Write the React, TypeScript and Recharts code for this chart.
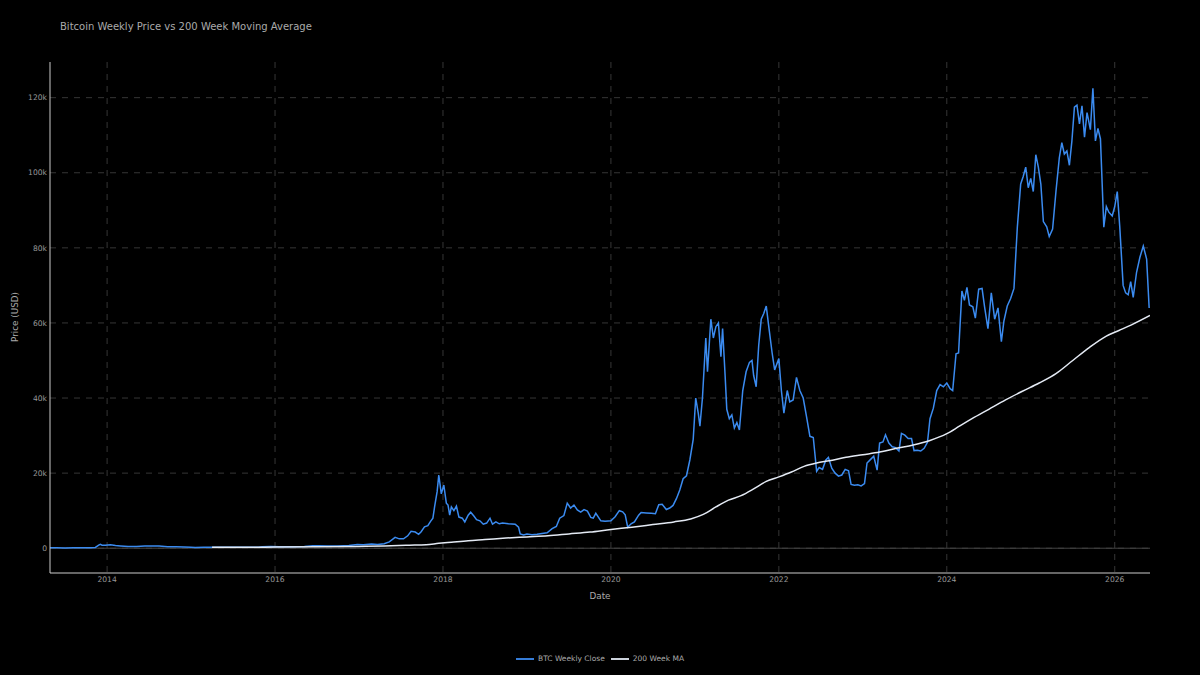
import React from "react";
import {
  CartesianGrid,
  Legend,
  Line,
  LineChart,
  ReferenceLine,
  XAxis,
  YAxis,
} from "recharts";

// weekly close (x = fractional year)
const priceYears = [
  2013.32, 2013.4, 2013.5, 2013.6, 2013.7, 2013.8, 2013.86, 2013.9, 2013.92, 2013.94, 2013.98,
  2014.04, 2014.1, 2014.16, 2014.25, 2014.35, 2014.45, 2014.52, 2014.62, 2014.72, 2014.82, 2014.92,
  2015.0, 2015.05, 2015.15, 2015.3, 2015.42, 2015.52, 2015.62, 2015.72, 2015.8, 2015.85, 2015.95,
  2016.05, 2016.2, 2016.35, 2016.45, 2016.52, 2016.62, 2016.75, 2016.88, 2016.98,
  2017.05, 2017.15, 2017.22, 2017.3, 2017.36, 2017.43, 2017.48, 2017.53, 2017.58, 2017.62, 2017.67,
  2017.71, 2017.74, 2017.78, 2017.82, 2017.85, 2017.88, 2017.9, 2017.93, 2017.95, 2017.98,
  2018.01, 2018.04, 2018.06, 2018.08, 2018.1, 2018.13, 2018.16, 2018.19, 2018.23, 2018.26, 2018.3,
  2018.33, 2018.37, 2018.4, 2018.44, 2018.48, 2018.52, 2018.56, 2018.59, 2018.63, 2018.67, 2018.71,
  2018.78, 2018.86, 2018.9, 2018.92, 2018.96,
  2019.0, 2019.06, 2019.12, 2019.18, 2019.24, 2019.3, 2019.35, 2019.39, 2019.44, 2019.48, 2019.52,
  2019.56, 2019.6, 2019.64, 2019.68, 2019.72, 2019.76, 2019.79, 2019.82, 2019.88, 2019.93,
  2020.0, 2020.05, 2020.1, 2020.14, 2020.17, 2020.2, 2020.24, 2020.28, 2020.33, 2020.36, 2020.42,
  2020.48, 2020.53, 2020.57, 2020.61, 2020.66, 2020.7, 2020.74, 2020.78, 2020.82, 2020.86, 2020.9,
  2020.94, 2020.98,
  2021.01, 2021.04, 2021.06, 2021.09, 2021.13, 2021.15, 2021.19, 2021.22, 2021.25, 2021.28, 2021.31,
  2021.33, 2021.36, 2021.38, 2021.41, 2021.44, 2021.47, 2021.5, 2021.53, 2021.57, 2021.61, 2021.65,
  2021.68, 2021.7, 2021.73, 2021.76, 2021.79, 2021.82, 2021.85, 2021.88, 2021.92, 2021.95,
  2022.0, 2022.03, 2022.06, 2022.1, 2022.13, 2022.17, 2022.21, 2022.25, 2022.29, 2022.33, 2022.37,
  2022.41, 2022.45, 2022.48, 2022.52, 2022.56, 2022.59, 2022.63, 2022.67, 2022.71, 2022.75, 2022.79,
  2022.83, 2022.86, 2022.9, 2022.94, 2022.98,
  2023.02, 2023.05, 2023.09, 2023.13, 2023.17, 2023.2, 2023.24, 2023.27, 2023.31, 2023.35, 2023.39,
  2023.43, 2023.46, 2023.5, 2023.54, 2023.58, 2023.61, 2023.65, 2023.69, 2023.73, 2023.77, 2023.8,
  2023.84, 2023.88, 2023.92, 2023.96,
  2024.0, 2024.04, 2024.07, 2024.11, 2024.14, 2024.18, 2024.21, 2024.24, 2024.27, 2024.31, 2024.34,
  2024.38, 2024.42, 2024.45, 2024.49, 2024.53, 2024.57, 2024.61, 2024.65, 2024.68, 2024.72, 2024.76,
  2024.8, 2024.84, 2024.88, 2024.91, 2024.94, 2024.97,
  2025.0, 2025.03, 2025.06, 2025.09, 2025.12, 2025.15, 2025.19, 2025.22, 2025.26, 2025.3, 2025.34,
  2025.37, 2025.4, 2025.43, 2025.46, 2025.49, 2025.52, 2025.55, 2025.58, 2025.61, 2025.64, 2025.67,
  2025.71, 2025.74, 2025.77, 2025.8, 2025.83, 2025.87, 2025.9, 2025.93, 2025.97,
  2026.0, 2026.03, 2026.06, 2026.1, 2026.13, 2026.16, 2026.19, 2026.22, 2026.26, 2026.3, 2026.34,
  2026.38, 2026.41,
];

const priceValues = [
  120, 115, 90, 105, 125, 140, 210, 800, 1050, 820, 760,
  900, 700, 600, 480, 440, 620, 600, 580, 400, 360, 340,
  290, 220, 250, 230, 240, 290, 260, 240, 280, 380, 430,
  420, 420, 450, 680, 640, 580, 620, 740, 960,
  900, 1100, 1000, 1200, 1700, 2900, 2500, 2500, 3300, 4500, 4300,
  3700, 4400, 5700, 6000, 7100, 8000, 11000, 15000, 19500, 14500,
  16800, 12000, 11500, 8800, 11000, 10000, 11200, 8300, 8000, 7000, 8800,
  9600, 8500, 7600, 7300, 6400, 6700, 8000, 6400, 7000, 6500, 6700,
  6500, 6400, 5600, 3800, 3500,
  3800, 3600, 3700, 3900, 4100, 5200, 5800, 8000, 8700, 12000, 10700,
  11500, 10200, 9600, 10300, 9900, 8200, 8000, 9300, 7300, 7200,
  7300, 8400, 10000, 9700, 8900, 5600, 6500, 7000, 8800, 9500, 9400,
  9300, 9200, 11600, 11700, 10300, 10700, 11400, 13200, 15500, 18500, 19300,
  23500, 29000,
  40000, 36000, 32500, 40000, 56000, 47000, 61000, 56000, 59000, 60000, 51000,
  58500, 46000, 37000, 34500, 35500, 32000, 33500, 31500, 42000, 47000, 49500,
  50000, 46000, 43000, 54000, 61000, 62500, 64500, 59000, 52000, 47500,
  50500, 42000, 36000, 42000, 39000, 39500, 45500, 42000, 40000, 35000, 29800,
  29500, 20500, 21500, 21000, 23500, 24200, 21300, 20000, 19200, 19500, 21000,
  20600, 17000, 16800, 16900, 16600,
  17200, 22700, 23600, 24500, 20800, 28000, 28300, 30200, 28000, 27000, 26800,
  25900, 30600, 30100, 29200, 29200, 26000, 26100, 25900, 26600, 28200, 34500,
  37300, 42000, 43600, 43000,
  44000, 42500, 42000, 51800, 52000, 68500, 66000, 69500, 64800, 64300, 61300,
  69000, 69200, 64300, 58500, 68000, 61000, 64000, 55000, 60500, 64500, 66500,
  69200, 85500, 97000, 99000, 101500, 96000,
  98500, 95000, 104800, 101500, 97000, 87000, 85600, 83000, 85000, 95000, 104000,
  108000, 105000, 105800, 102000, 108500, 117500, 118000, 113000, 117800, 109500, 116000,
  111500, 122500, 108500, 111800, 109000, 85500, 91000, 89500, 88500,
  91000, 95000, 85600, 70000, 68000, 67500, 71000, 66800, 73500, 77500, 80500,
  77000, 64000,
];

// 200 week moving average
const maYears = [
  2015.25, 2015.5, 2015.75, 2016.0, 2016.5, 2017.0, 2017.3, 2017.6, 2017.8, 2017.95,
  2018.1, 2018.3, 2018.5, 2018.75, 2019.0, 2019.25, 2019.5, 2019.75, 2020.0, 2020.25,
  2020.5, 2020.75, 2020.95, 2021.1, 2021.25, 2021.4, 2021.55, 2021.7, 2021.85, 2022.0,
  2022.15, 2022.3, 2022.45, 2022.6, 2022.8, 2023.0, 2023.2, 2023.4, 2023.6, 2023.8,
  2024.0, 2024.15, 2024.3, 2024.5, 2024.7, 2024.9, 2025.1, 2025.3, 2025.5, 2025.7,
  2025.9, 2026.05, 2026.2, 2026.42,
];

const maValues = [
  250, 260, 280, 300, 360, 480, 600, 800, 950, 1300,
  1600, 2000, 2300, 2700, 3000, 3300, 3800, 4300, 5000, 5600,
  6300, 7000, 7800, 9000, 11000, 12800, 14000, 15800, 17800, 19000,
  20300, 21800, 22700, 23300, 24200, 24900, 25600, 26600, 27500, 28700,
  30500, 32500, 34500, 37000, 39500, 41800, 44000, 46500, 50000, 53500,
  56500, 58000, 59500, 62000,
];

const yearTicks = [2014, 2016, 2018, 2020, 2022, 2024, 2026];
const priceTicks = [0, 20000, 40000, 60000, 80000, 100000, 120000];

const priceData = priceYears.map((year, i) => ({ year, price: priceValues[i] }));
const maData = maYears.map((year, i) => ({ year, ma: maValues[i] }));

const FONT = "'DejaVu Sans', sans-serif";
const BLUE = "#3b8bf0";
const WHITE = "#e4eaf4";

const YLabel = () => (
  <text
    x={15}
    y={317}
    transform="rotate(-90 15 317)"
    textAnchor="middle"
    dominantBaseline="central"
    fill="#aaa"
    fontSize={8.8}
    fontFamily={FONT}
  >
    Price (USD)
  </text>
);

const XLabel = () => (
  <text
    x={600}
    y={596}
    textAnchor="middle"
    dominantBaseline="central"
    fill="#aaa"
    fontSize={8.8}
    fontFamily={FONT}
  >
    Date
  </text>
);

function LegendContent() {
  const items = [
    { name: "BTC Weekly Close", color: BLUE },
    { name: "200 Week MA", color: WHITE },
  ];
  return (
    <div
      style={{
        width: 1200,
        height: 54,
        display: "flex",
        alignItems: "flex-end",
        justifyContent: "center",
        paddingBottom: 3,
        boxSizing: "border-box",
        fontFamily: FONT,
        fontSize: 7.5,
        color: "#aaa",
      }}
    >
      {items.map((it) => (
        <div
          key={it.name}
          style={{ display: "flex", alignItems: "center", margin: "0 3px", lineHeight: "10px" }}
        >
          <svg width={18} height={4} style={{ marginRight: 4 }}>
            <line x1={0} y1={2} x2={18} y2={2} stroke={it.color} strokeWidth={1.8} />
          </svg>
          <span>{it.name}</span>
        </div>
      ))}
    </div>
  );
}

export default function App() {
  return (
    <div
      style={{
        position: "fixed",
        top: 0,
        left: 0,
        width: 1200,
        height: 675,
        background: "#000",
      }}
    >
      <div
        style={{
          position: "absolute",
          left: 60,
          top: 21,
          fontFamily: FONT,
          fontSize: 10,
          lineHeight: "12px",
          color: "#aaa",
          whiteSpace: "nowrap",
        }}
      >
        Bitcoin Weekly Price vs 200 Week Moving Average
      </div>
      <LineChart
        width={1200}
        height={675}
        margin={{ top: 62, right: 50, left: 0, bottom: 8 }}
      >
        <CartesianGrid
          stroke="#363636"
          strokeDasharray="6 6"
          horizontalValues={priceTicks}
          verticalValues={yearTicks}
        />
        <XAxis
          dataKey="year"
          type="number"
          domain={[2013.32, 2026.42]}
          allowDataOverflow
          ticks={yearTicks}
          tickFormatter={(v) => String(v)}
          height={40}
          stroke="#cccccc"
          tickLine={false}
          tickSize={0}
          tickMargin={4}
          tick={{ fill: "#999", fontSize: 7.6, fontFamily: FONT }}
          label={<XLabel />}
        />
        <YAxis
          type="number"
          domain={[-6600, 129500]}
          allowDataOverflow
          ticks={priceTicks}
          tickFormatter={(v) => (v === 0 ? "0" : `${v / 1000}k`)}
          width={50}
          stroke="#cccccc"
          tickLine={false}
          tickSize={0}
          tickMargin={3}
          tick={{ fill: "#999", fontSize: 7.6, fontFamily: FONT }}
          label={<YLabel />}
        />
        <ReferenceLine y={0} stroke="#444" strokeWidth={1} />
        <Legend
          verticalAlign="bottom"
          height={54}
          wrapperStyle={{ left: 0, width: 1200 }}
          content={<LegendContent />}
        />
        <Line
          data={priceData}
          dataKey="price"
          name="BTC Weekly Close"
          type="linear"
          stroke={BLUE}
          strokeWidth={1.5}
          dot={false}
          isAnimationActive={false}
        />
        <Line
          data={maData}
          dataKey="ma"
          name="200 Week MA"
          type="monotone"
          stroke={WHITE}
          strokeWidth={1.5}
          dot={false}
          isAnimationActive={false}
        />
      </LineChart>
    </div>
  );
}
